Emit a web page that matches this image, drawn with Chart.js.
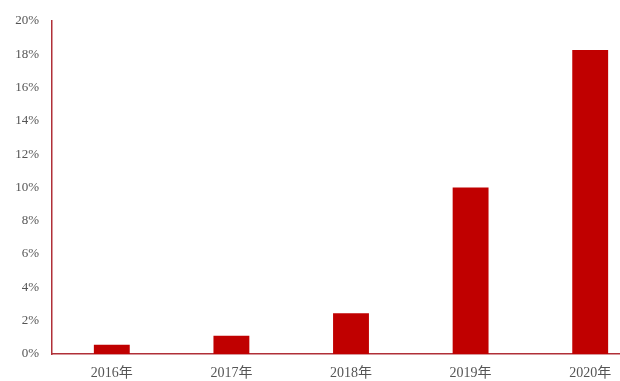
<!DOCTYPE html>
<html lang="zh">

<head>
  <meta charset="UTF-8">
  <title>Chart</title>
  <script src="https://cdn.jsdelivr.net/npm/chart.js"></script>
  <style>
    html, body { margin: 0; padding: 0; overflow: hidden; background: #fff; }
  </style>
</head>

<body>
  <canvas id="barChart" width="660" height="381"></canvas>

  <script>
    // values (percent)
    const years = ['2016年', '2017年', '2018年', '2019年', '2020年'];
    const shares = [0.55, 1.1, 2.45, 10.0, 18.25];
    const yTicks = [0, 2, 4, 6, 8, 10, 12, 14, 16, 18, 20];

    const serif = "'Liberation Serif', 'Noto Sans CJK SC', serif";

    const ctx = document.getElementById('barChart').getContext('2d');
    new Chart(ctx, {
      type: 'bar',
      data: {
        labels: years,
        datasets: [{
          data: shares,
          backgroundColor: '#C00000',
          borderWidth: 0,
          barPercentage: 0.6,
          categoryPercentage: 0.5
        }]
      },
      options: {
        responsive: false,
        animation: false,
        layout: { padding: { top: 20, right: 10, left: 0, bottom: 0 } },
        plugins: { legend: { display: false }, tooltip: { enabled: false } },
        scales: {
          x: {
            grid: { display: false, drawTicks: false },
            border: { color: '#B03038', width: 1.5 },
            ticks: { color: '#555', font: { family: serif, size: 14 }, padding: 11, maxRotation: 0 },
            afterFit: s => { s.height = 27; }
          },
          y: {
            min: 0,
            max: 20,
            afterBuildTicks: s => { s.ticks = yTicks.map(v => ({ value: v })); },
            grid: { display: false, drawTicks: false },
            border: { color: '#B03038', width: 1.5 },
            ticks: { color: '#555', font: { family: serif, size: 13 }, padding: 13, callback: v => v + '%' },
            afterFit: s => { s.width = 52; }
          }
        }
      }
    });
  </script>
</body>

</html>
